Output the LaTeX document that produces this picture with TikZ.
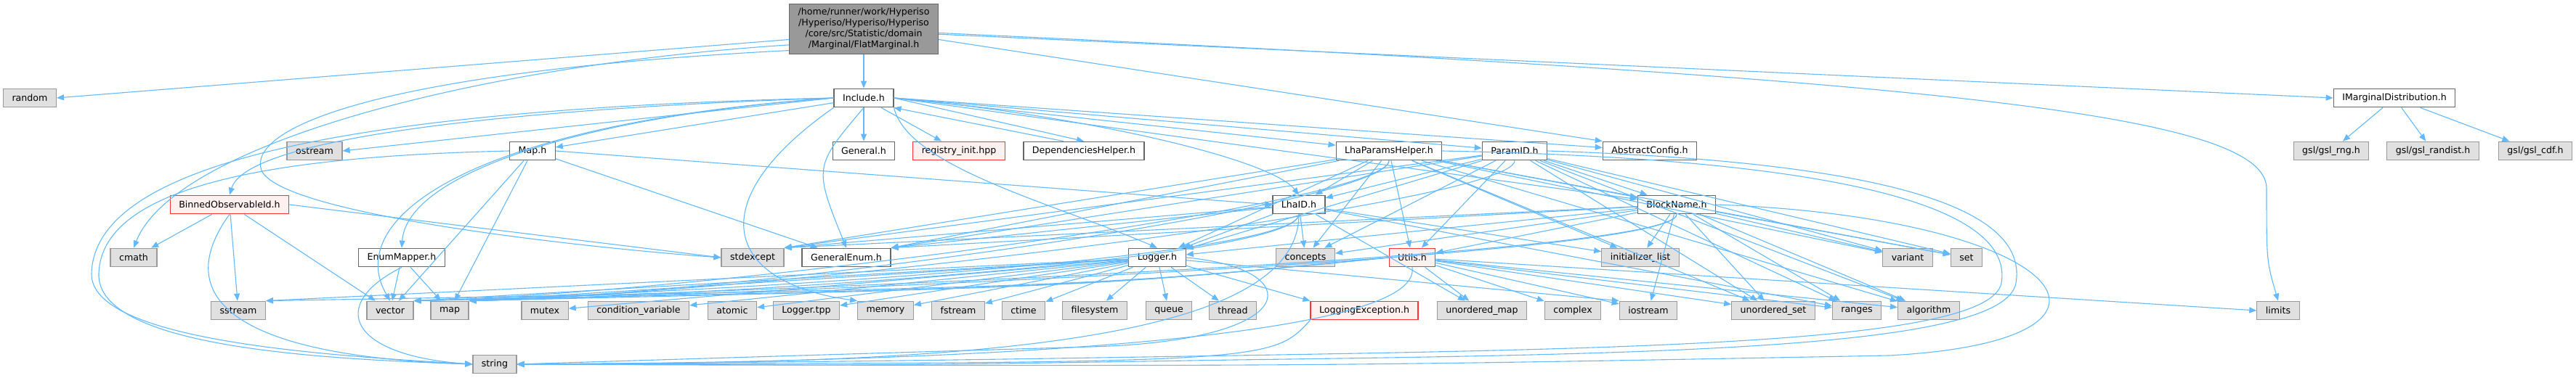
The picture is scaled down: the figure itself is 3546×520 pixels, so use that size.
\documentclass[tikz,border=0pt]{standalone}
\usepackage{fontspec}
\setmainfont{DejaVu Sans}
\usetikzlibrary{arrows.meta}
\definecolor{depblue}{HTML}{63B8FF}
\definecolor{sysfill}{HTML}{E0E0E0}
\definecolor{sysline}{HTML}{999999}
\definecolor{fileline}{HTML}{666666}
\definecolor{topfill}{HTML}{999999}
\definecolor{redfill}{HTML}{FFF0F0}
\definecolor{redline}{HTML}{FF3333}

\begin{document}
\begin{tikzpicture}
		[
		x=0.5pt, y=-0.5pt,
		font=\fontsize{6.3}{7.5}\selectfont,
		every node/.style={rectangle, minimum height=12.8pt, inner xsep=6pt, inner ysep=2pt, line width=0.6pt}
		]
		
		% Node styles: system header, project header, missing header, the file itself
		\tikzstyle{sys node}=[draw=sysline, fill=sysfill];
		\tikzstyle{file node}=[draw=fileline, fill=white];
		\tikzstyle{red node}=[draw=redline, fill=redfill];
		\tikzstyle{top node}=[draw=fileline, fill=topfill, align=center, inner ysep=3pt];
		% Include arrows
		\tikzstyle{dep}=[draw=depblue, line width=0.55pt, -{Triangle[length=5pt,width=4pt]}];
		
		\useasboundingbox (0,0) rectangle (3546,520);
		
		% The file
		\node[top node](main) at (1189,40) {/home/runner/work/Hyperiso\\/Hyperiso/Hyperiso/Hyperiso\\/core/src/Statistic/domain\\/Marginal/FlatMarginal.h};
		
		% Level 1
		\node[sys node](random) at (41,135) {random};
		\node[file node](incl) at (1189,135) {Include.h};
		\node[file node](imarg) at (3296,135) {IMarginalDistribution.h};
		
		% Level 2
		\node[sys node](ostream) at (433,208) {ostream};
		\node[file node](maph) at (733,208) {Map.h};
		\node[file node](general) at (1189,208) {General.h};
		\node[red node](registry) at (1320,208) {registry\_init.hpp};
		\node[file node](depend) at (1492,208) {DependenciesHelper.h};
		\node[file node](lhaparams) at (1912,208) {LhaParamsHelper.h};
		\node[file node](paramid) at (2085,208) {ParamID.h};
		\node[file node](abstract) at (2271,208) {AbstractConfig.h};
		\node[sys node](gslrng) at (3209,208) {gsl/gsl\_rng.h};
		\node[sys node](gslrandist) at (3349,208) {gsl/gsl\_randist.h};
		\node[sys node](gslcdf) at (3490,208) {gsl/gsl\_cdf.h};
		
		% Level 3
		\node[red node](binned) at (316,282) {BinnedObservableId.h};
		\node[file node](lhaid) at (1788,282) {LhaID.h};
		\node[file node](blockname) at (2308,282) {BlockName.h};
		
		% Level 4
		\node[sys node](cmath) at (184,355) {cmath};
		\node[file node](enummap) at (553,355) {EnumMapper.h};
		\node[sys node](stdexcept) at (1036,355) {stdexcept};
		\node[file node](genenum) at (1165,355) {GeneralEnum.h};
		\node[file node](logger) at (1593,355) {Logger.h};
		\node[sys node](concepts) at (1797,355) {concepts};
		\node[red node](utils) at (1944,355) {Utils.h};
		\node[sys node](initlist) at (2258,355) {initializer\_list};
		\node[sys node](variant) at (2626,355) {variant};
		\node[sys node](set) at (2707,355) {set};
		
		% Level 5
		\node[sys node](sstream) at (328,428) {sstream};
		\node[sys node](vector) at (537,428) {vector};
		\node[sys node](map) at (619,428) {map};
		\node[sys node](mutex) at (750,428) {mutex};
		\node[sys node](condvar) at (879,428) {condition\_variable};
		\node[sys node](atomic) at (1008,428) {atomic};
		\node[sys node](loggertpp) at (1110,428) {Logger.tpp};
		\node[sys node](memory) at (1219,428) {memory};
		\node[sys node](fstream) at (1319,428) {fstream};
		\node[sys node](ctime) at (1409,428) {ctime};
		\node[sys node](filesys) at (1507,428) {filesystem};
		\node[sys node](queue) at (1609,428) {queue};
		\node[sys node](thread) at (1697,428) {thread};
		\node[red node](logexc) at (1878,428) {LoggingException.h};
		\node[sys node](umap) at (2040,428) {unordered\_map};
		\node[sys node](complex) at (2165,428) {complex};
		\node[sys node](iostream) at (2269,428) {iostream};
		\node[sys node](uset) at (2441,428) {unordered\_set};
		\node[sys node](ranges) at (2556,428) {ranges};
		\node[sys node](algorithm) at (2655,428) {algorithm};
		\node[sys node](limits) at (3136,428) {limits};
		
		% Level 6
		\node[sys node](string) at (681,502) {string};
		
		% FlatMarginal.h
		\draw[dep] (main.188) -- (random.east);
		\draw[dep] (main.192) .. controls (650,90) and (240,200) .. (cmath.north);
		\draw[dep] (main.196) .. controls (500,100) and (340,180) .. (360,235) .. controls (390,300) and (850,345) .. (stdexcept.west);
		\draw[dep] (main) -- (incl);
		\draw[dep] (main.-8) -- (abstract.north west);
		\draw[dep] (main.-4) -- (imarg.west);
		\draw[dep] (main.-3) .. controls (2700,110) and (3120,160) .. (3120,260) .. controls (3120,360) .. (limits.north);
		
		% IMarginalDistribution.h
		\foreach \t in {gslrng,gslrandist,gslcdf} \draw[dep] (imarg) -- (\t);
		
		% Include.h
		\foreach \t in {maph,general,registry} \draw[dep] (incl) -- (\t);
		\draw[dep] (incl.east) -- (depend.north);
		\draw[dep] ([xshift=-14pt]depend.north) -- (incl.south east);
		\foreach \t in {lhaparams,paramid,abstract,blockname} \draw[dep] (incl.east) -- (\t);
		\draw[dep] (incl.west) -- (ostream.east);
		\draw[dep] (incl.west) .. controls (700,150) and (340,190) .. (binned.north);
		\draw[dep] (incl.west) .. controls (800,160) and (560,240) .. (enummap.north);
		\draw[dep] (incl.west) .. controls (650,170) and (470,300) .. (vector.north);
		\draw[dep] (incl.west) .. controls (500,150) and (130,220) .. (126,377) .. controls (124,470) and (450,490) .. (string.west);
		\draw[dep] (incl.south west) .. controls (960,280) and (1000,390) .. (memory.north west);
		\draw[dep] (incl.south) .. controls (1120,230) .. (genenum.north);
		\draw[dep] (incl.south east) .. controls (1250,230) and (1450,280) .. (logger.north);
		\draw[dep] (incl.east) .. controls (1500,160) and (1750,220) .. (lhaid.north);
		
		% Map.h
		\draw[dep] (maph.east) -- (lhaid.west);
		\foreach \t in {genenum,map,vector} \draw[dep] (maph) -- (\t);
		\draw[dep] (maph.west) .. controls (400,215) and (140,250) .. (136,377) .. controls (132,480) and (450,495) .. (string.west);
		
		% BinnedObservableId.h
		\foreach \t in {cmath,sstream,vector} \draw[dep] (binned) -- (\t);
		\draw[dep] (binned.east) -- (stdexcept.west);
		\draw[dep] (binned.south) .. controls (240,400) and (300,490) .. (string.west);
		
		% EnumMapper.h
		\foreach \t in {vector,map} \draw[dep] (enummap) -- (\t);
		\draw[dep] (enummap.south) .. controls (450,420) and (480,490) .. (string.west);
		
		% Logger.h
		\foreach \t in {mutex,condvar,atomic,loggertpp,memory,fstream,ctime,filesys,queue,thread} \draw[dep] (logger) -- (\t);
		\foreach \t in {map,vector,sstream} \draw[dep] (logger) -- (\t.north east);
		\draw[dep] (logger) -- (logexc.north west);
		\draw[dep] (logger) -- (iostream.north west);
		\draw[dep] (logger.east) .. controls (1800,370) and (1800,470) .. (1500,478) .. controls (1100,490) .. (string.east);
		
		% LhaID.h
		\foreach \t in {logger,concepts,initlist,umap,ranges} \draw[dep] (lhaid) -- (\t);
		\foreach \t in {genenum,stdexcept} \draw[dep] (lhaid) -- (\t.north east);
		\foreach \t in {map,vector} \draw[dep] (lhaid.south) .. controls +(0,60) and +(400,-10) .. (\t.north east);
		\draw[dep] (lhaid.south) .. controls +(0,180) and +(600,0) .. (string.east);
		
		% LhaParamsHelper.h
		\foreach \t in {logger,lhaid,blockname,concepts,utils,initlist,variant,set,algorithm,uset} \draw[dep] (lhaparams) -- (\t);
		\foreach \t in {genenum,stdexcept} \draw[dep] (lhaparams) -- (\t.north east);
		\foreach \t in {map,vector} \draw[dep] (lhaparams.south) .. controls +(0,60) and +(400,-10) .. (\t.north east);
		\draw[dep] (lhaparams.east) .. controls (2600,220) and (2770,300) .. (2755,390) .. controls (2740,470) and (2300,480) .. (1700,490) .. controls (1200,498) .. (string.east);
		
		% ParamID.h
		\foreach \t in {lhaid,blockname,logger,concepts,utils,variant,set,algorithm,ranges,uset} \draw[dep] (paramid) -- (\t);
		\foreach \t in {genenum,stdexcept} \draw[dep] (paramid) -- (\t.north east);
		\draw[dep] (paramid.south) .. controls +(0,60) and +(400,-10) .. (map.north east);
		\draw[dep] (paramid.east) .. controls (2650,225) and (2790,300) .. (2775,390) .. controls (2760,480) and (2300,488) .. (1700,496) .. controls (1200,504) .. (string.east);
		
		% BlockName.h
		\foreach \t in {logger,concepts,utils,initlist,variant,set,iostream,uset,ranges,algorithm} \draw[dep] (blockname) -- (\t);
		\foreach \t in {genenum,stdexcept} \draw[dep] (blockname) -- (\t.north east);
		\foreach \t in {map,vector} \draw[dep] (blockname.south) .. controls +(0,60) and +(400,-10) .. (\t.north east);
		\draw[dep] (blockname.east) .. controls (2850,300) and (2980,470) .. (2600,490) .. controls (1800,505) .. (string.east);
		
		% Utils.h
		\foreach \t in {umap,complex,iostream,uset,ranges,algorithm} \draw[dep] (utils) -- (\t);
		\draw[dep] (utils) -- (limits.west);
		\foreach \t in {map,vector,sstream} \draw[dep] (utils.west) .. controls (1500,395) .. (\t.north east);
		\draw[dep] (utils.south) .. controls (1960,470) and (1300,500) .. (string.east);
		
		% LoggingException.h
		\draw[dep] (logexc.south west) .. controls (1750,500) .. (string.east);
		\end{tikzpicture}
\end{document}
